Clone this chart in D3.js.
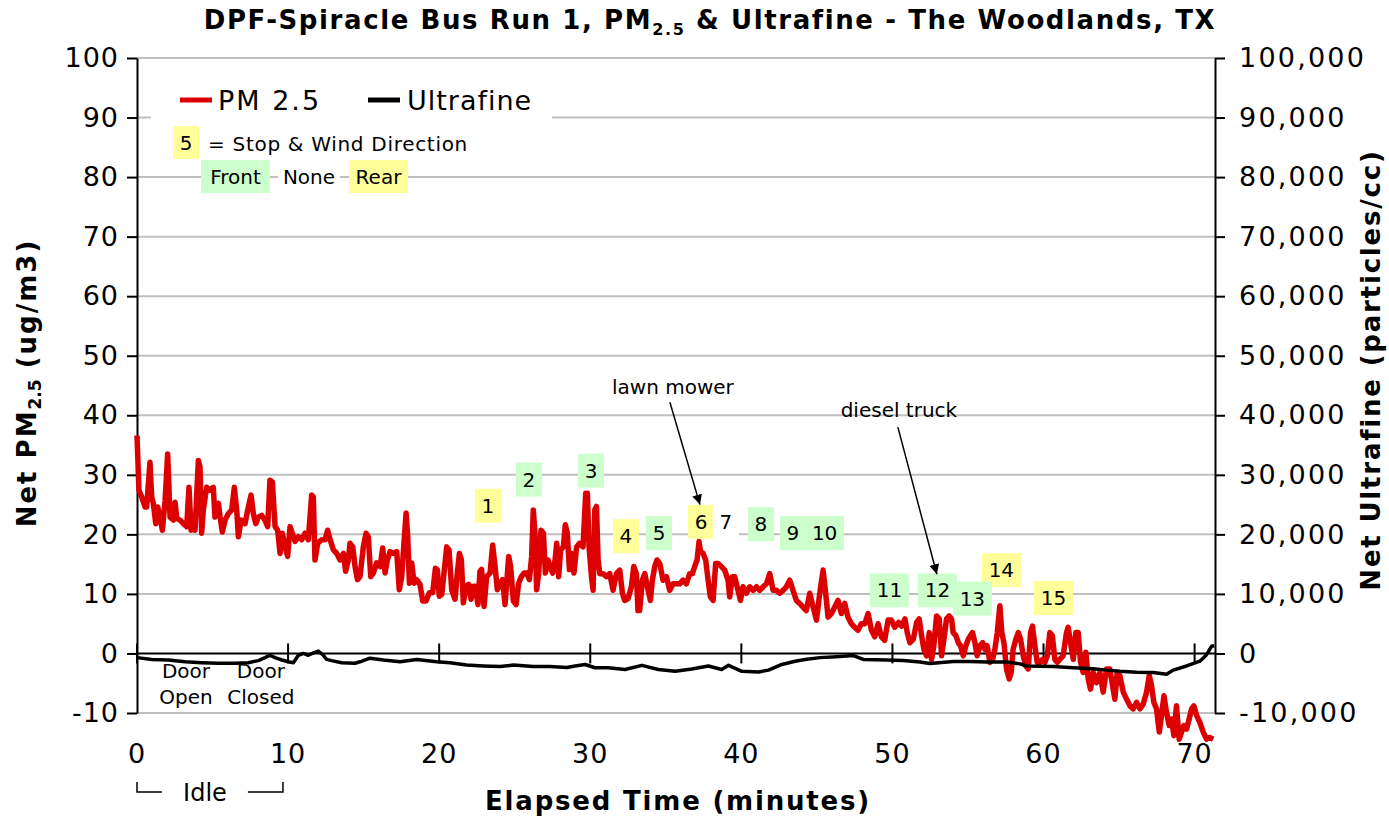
<!DOCTYPE html>
<html lang="en">
<head>
<meta charset="UTF-8">
<title>DPF-Spiracle Bus Run 1, PM2.5 &amp; Ultrafine</title>
<script src="https://d3js.org/d3.v7.min.js"></script>
<style>
  body { margin: 0; background: #fff; overflow: hidden; }
  svg text { font-family: "DejaVu Sans", Verdana, sans-serif; fill: #000; }
  .grid line { stroke: #c0c0c0; stroke-width: 2; }
  .axis path, .axis line { stroke: #000; stroke-width: 2; }
  .axis text { font-size: 27px; letter-spacing: 1px; }
  .axis.right text { letter-spacing: 2.2px; }
  .ann { font-size: 20px; }
</style>
</head>
<body>
<svg id="chart" width="1389" height="816"></svg>
<script>
// ---- data ----
const pmTime = [0.0,0.13,0.31,0.53,0.64,0.86,0.97,1.08,1.24,1.37,1.52,1.68,1.86,2.03,2.19,2.41,2.52,2.63,2.85,3.07,3.29,3.44,3.58,3.73,3.84,4.06,4.17,4.28,4.39,4.61,4.83,5.05,5.16,5.39,5.5,5.65,5.83,6.05,6.27,6.44,6.6,6.71,6.89,7.15,7.37,7.55,7.7,7.86,8.03,8.25,8.47,8.65,8.8,8.96,9.14,9.31,9.47,9.62,9.8,9.97,10.13,10.28,10.46,10.68,10.9,11.12,11.34,11.56,11.67,11.78,11.96,12.22,12.44,12.62,12.78,13.0,13.22,13.44,13.66,13.81,13.99,14.1,14.28,
  14.43,14.59,14.76,14.98,15.16,15.31,15.47,15.64,15.86,16.09,16.26,16.42,16.57,16.75,16.97,17.19,17.36,17.52,17.67,17.81,17.92,18.03,18.18,18.34,18.51,18.73,18.91,19.13,19.35,19.57,19.75,19.88,20.01,20.17,20.32,20.5,20.65,20.83,21.05,21.2,21.34,21.47,21.6,21.78,21.95,22.11,22.26,22.39,22.57,22.7,22.81,22.97,23.14,23.37,23.54,23.7,23.85,24.03,24.2,24.36,24.47,24.6,24.73,24.91,25.09,25.26,25.44,25.62,25.79,25.97,26.12,26.23,26.34,26.45,26.59,26.74,26.9,27.03,27.2,27.34,27.51,27.67,27.78,27.91,28.04,28.22,28.35,28.48,28.62,28.77,28.92,29.1,29.28,
  29.52,29.7,29.81,29.92,30.08,30.19,30.3,30.41,30.52,30.63,30.85,31.07,31.29,31.51,31.73,31.95,32.13,32.28,32.5,32.72,32.88,33.05,33.16,33.27,33.45,33.61,33.83,33.98,34.11,34.27,34.42,34.6,34.82,35.04,35.26,35.48,35.7,35.92,36.14,36.36,36.58,36.76,36.91,37.07,37.2,37.29,37.47,37.64,37.8,37.95,38.13,38.3,38.46,38.68,38.9,39.12,39.23,39.41,39.56,39.78,39.94,40.11,40.33,40.55,40.78,41.0,41.22,41.44,41.66,41.88,42.1,42.32,42.54,42.76,42.98,43.2,43.42,43.64,43.86,44.08,44.3,44.53,44.75,44.97,45.19,45.41,45.58,45.74,45.96,46.18,46.4,46.62,46.84,47.06,47.28,47.5,47.72,47.94,48.17,48.39,48.61,48.83,49.05,49.27,49.49,49.71,49.93,50.15,
  50.41,50.6,50.83,50.98,51.16,51.38,51.6,51.77,51.93,52.08,52.26,52.44,52.59,52.74,52.92,53.1,53.25,53.41,53.58,53.76,53.91,54.02,54.2,54.36,54.51,54.69,54.86,55.02,55.17,55.3,55.46,55.61,55.79,55.97,56.12,56.27,56.45,56.63,56.78,56.94,57.11,57.24,57.38,57.55,57.73,57.86,57.99,58.17,58.33,58.48,58.66,58.83,58.99,59.14,59.27,59.43,59.58,59.76,59.94,60.09,60.25,60.42,60.58,60.75,60.91,61.08,61.3,61.52,61.63,61.79,61.97,62.14,62.3,62.45,62.63,62.8,62.96,63.11,63.29,63.51,63.73,63.95,64.17,64.39,64.57,64.72,64.88,65.05,65.28,65.5,65.72,65.94,66.16,66.38,66.6,66.82,67.0,67.15,67.3,67.48,67.66,67.81,67.97,68.14,68.32,68.47,68.63,68.8,68.98,69.14,69.29,69.47,69.64,69.8,69.95,70.13,70.35,70.57,70.79,70.99,71.23];
const pmValue = [36.6,27.4,26.3,24.6,24.6,32.1,26.3,25.2,21.8,24.6,22.9,20.7,25.7,33.5,22.9,22.4,25.4,22.7,22.4,21.8,21.3,27.9,20.7,22.4,20.7,32.4,31.3,20.2,24.1,27.9,27.4,27.9,22.9,25.2,22.9,20.4,22.4,23.5,24.1,27.9,24.1,19.6,22.4,21.8,24.6,26.6,23.5,21.8,22.9,23.2,22.4,21.3,29.1,28.8,21.3,20.7,16.8,20.2,17.9,16.3,21.3,20.2,18.8,19.6,19.1,20.2,19.1,26.6,26.3,15.7,18.5,19.1,19.1,20.7,19.1,17.4,16.8,15.7,16.8,13.8,15.7,18.5,17.9,
  14.6,12.4,12.9,17.9,20.2,19.6,12.9,13.5,15.2,14.6,17.7,13.5,15.7,17.1,16.8,17.1,10.7,12.9,18.5,23.6,19.6,11.8,15.2,11.8,12.4,11.6,8.8,8.8,10.2,10.2,14.3,14.1,9.6,9.9,13.5,17.9,17.4,10.7,9.1,13.5,16.8,15.7,8.5,11.3,11.6,9.1,11.3,11.3,8.2,13.8,14.1,7.9,12.9,13.5,18.2,14.6,10.7,11.8,12.4,8.2,11.8,16.3,14.6,8.8,8.2,11.8,12.9,13.5,13.5,12.4,16.3,24.1,20.2,10.7,13.5,20.7,20.2,13.5,15.7,14.6,13.5,15.7,18.5,12.9,17.4,17.9,21.6,20.2,14.1,16.8,13.5,17.9,18.5,
  17.9,26.9,26.9,17.9,12.9,10.6,24.1,24.7,15.7,13.4,13.4,12.9,13.4,10.6,13.4,14.0,10.1,8.9,9.2,11.2,14.6,13.4,7.2,7.2,12.3,13.4,10.6,8.9,12.3,14.6,15.7,15.1,12.3,12.9,10.6,11.7,11.7,11.7,12.3,11.7,13.4,13.4,14.6,15.7,18.8,17.1,16.8,15.7,12.3,9.5,8.9,15.1,15.1,14.6,14.0,12.3,9.5,12.9,12.9,10.6,8.9,11.2,10.1,11.2,10.6,11.2,10.6,11.2,11.7,13.4,10.6,10.6,10.1,10.6,11.2,12.3,10.6,8.9,8.4,7.8,7.2,10.1,7.8,5.6,10.1,14.0,10.1,6.1,6.7,7.8,8.9,6.7,8.4,6.1,5.0,4.4,3.9,5.0,5.0,6.7,3.9,2.8,5.0,2.8,2.2,5.6,5.6,4.4,
  5.2,4.6,5.8,3.5,1.8,2.4,5.2,5.8,3.0,0.7,-0.4,3.5,-1.0,1.3,6.3,5.8,-0.4,2.4,5.8,6.3,5.8,3.5,3.0,1.8,1.3,-0.4,1.3,2.4,3.0,3.5,1.8,-0.4,1.3,1.8,0.7,1.3,-1.5,-1.0,0.7,3.5,8.0,3.5,1.8,-2.6,-4.3,-3.2,0.7,2.4,3.5,2.4,-0.4,-2.1,-2.6,3.5,4.6,1.3,-1.5,-1.5,-1.0,-1.5,-0.4,3.5,3.0,-1.0,-1.5,-1.0,-0.4,3.5,4.4,1.8,-1.0,3.5,3.5,-1.5,-3.2,0.2,-4.3,-6.0,-3.2,-4.9,-3.2,-6.5,-2.6,-2.6,-5.4,-7.7,-3.2,-3.7,-6.5,-7.7,-8.8,-9.3,-8.2,-9.3,-8.5,-6.5,-3.7,-5.4,-8.2,-9.3,-13.2,-10.4,-7.1,-9.9,-12.1,-11.0,-13.8,-8.8,-14.4,-13.2,-12.1,-12.7,-11.0,-9.3,-8.8,-10.4,-11.6,-13.2,-14.4,-14.1,-14.4];

const ufTime = [0,0.97,2.08,3.18,4.28,5.39,6.49,7.37,8.03,8.47,8.8,9.14,9.58,10.02,10.35,10.68,11.01,11.34,11.67,12.0,12.33,12.55,12.88,13.55,14.43,14.76,15.42,16.31,17.41,18.51,19.84,20.72,21.82,22.92,24.03,24.91,26.23,27.34,28.44,29.0,29.66,30.32,31.2,32.3,33.41,34.51,35.62,36.72,37.82,38.7,39.15,40.03,41.13,41.8,42.68,43.56,44.22,45.2,46.3,47.41,48.07,49.61,50.72,51.82,52.48,54.02,55.13,56.23,57.55,58.44,58.88,60.64,61.97,63.29,64.17,65.05,66.16,67.26,68.14,68.58,69.47,70.35,70.79,71.12,71.3];
const ufValue = [-700,-1000,-1100,-1400,-1550,-1650,-1650,-1550,-1200,-700,-300,-700,-1100,-1400,-1550,-300,0,-300,100,400,-300,-1000,-1200,-1550,-1650,-1400,-800,-1100,-1400,-1000,-1400,-1550,-1950,-2100,-2200,-1950,-2200,-2200,-2350,-2100,-1850,-2400,-2400,-2700,-2000,-2700,-3000,-2600,-2100,-2700,-2000,-3000,-3100,-2800,-1850,-1300,-1000,-700,-550,-350,-1000,-1100,-1200,-1450,-1700,-1350,-1350,-1450,-1450,-1750,-2100,-2200,-2400,-2550,-2800,-3000,-3150,-3200,-3500,-2800,-2100,-1300,-200,1200,1300];

const leftTicks = [-10, 0, 10, 20, 30, 40, 50, 60, 70, 80, 90, 100];
const rightTicks = [-10000, 0, 10000, 20000, 30000, 40000, 50000, 60000, 70000, 80000, 90000, 100000];
const xTicks = [0, 10, 20, 30, 40, 50, 60, 70];

// stop markers: label, wind direction, time and level of the box centre
const stopLabels = ["1", "2", "3", "4", "5", "6", "7", "8", "9\u00a0\u00a010", "11", "12", "14", "13", "15"];
const stopWind   = ["Rear", "Front", "Front", "Rear", "Front", "Rear", "None", "Front", "Front", "Front", "Front", "Rear", "Front", "Rear"];
const stopTimes  = [23.23, 25.94, 30.05, 32.36, 34.55, 37.33, 38.98, 41.3, 44.67, 49.8, 52.98, 57.21, 55.29, 60.66];
const stopLevels = [24.8, 29.2, 30.7, 19.7, 20.2, 22.1, 22.0, 21.7, 20.2, 10.6, 10.6, 14.0, 9.2, 9.3];

const windColor = { Front: "#ccffcc", Rear: "#ffff99", None: "#ffffff" };

// ---- layout ----
const W = 1389, H = 816;
const margin = { top: 58, right: 174, bottom: 103, left: 137 };
const innerW = W - margin.left - margin.right;
const innerH = H - margin.top - margin.bottom;

const svg = d3.select("#chart");

const x = d3.scaleLinear().domain([0, 71.35]).range([margin.left, margin.left + innerW]);
const yL = d3.scaleLinear().domain([-10, 100]).range([margin.top + innerH, margin.top]);
const yR = d3.scaleLinear().domain([-10000, 100000]).range([margin.top + innerH, margin.top]);

const hyphen = f => d => f(d).replace("\u2212", "-");

// gridlines
svg.append("g").attr("class", "grid")
  .selectAll("line")
  .data(leftTicks.filter(d => d !== 0))
  .join("line")
  .attr("x1", x.range()[0]).attr("x2", x.range()[1])
  .attr("y1", d => yL(d)).attr("y2", d => yL(d));

// legend background (hides the 90 gridline)
svg.append("rect")
  .attr("x", 151).attr("y", 77).attr("width", 401).attr("height", 47)
  .attr("fill", "#fff");

// left axis
svg.append("g").attr("class", "axis")
  .attr("transform", `translate(${margin.left},0)`)
  .call(d3.axisLeft(yL).tickValues(leftTicks).tickFormat(hyphen(d3.format("d")))
    .tickSize(10).tickSizeOuter(0).tickPadding(8))
  .call(g => g.selectAll("text").attr("font-family", null).attr("font-size", null));

// right axis
svg.append("g").attr("class", "axis right")
  .attr("transform", `translate(${margin.left + innerW},0)`)
  .call(d3.axisRight(yR).tickValues(rightTicks).tickFormat(hyphen(d3.format(",")))
    .tickSize(10).tickSizeOuter(0).tickPadding(14))
  .call(g => g.selectAll("text").attr("font-family", null).attr("font-size", null));

// x axis crosses at zero
const y0 = yL(0);
const xAxis = svg.append("g").attr("class", "axis");
xAxis.append("line")
  .attr("x1", x.range()[0]).attr("x2", x.range()[1])
  .attr("y1", y0).attr("y2", y0);
xAxis.selectAll("line.tick")
  .data(xTicks)
  .join("line")
  .attr("class", "tick")
  .attr("x1", d => x(d)).attr("x2", d => x(d))
  .attr("y1", y0 - 10).attr("y2", y0 + 10);
xAxis.selectAll("text")
  .data(xTicks)
  .join("text")
  .attr("x", d => x(d))
  .attr("y", margin.top + innerH + 50)
  .attr("text-anchor", "middle")
  .text(d => d);

// series
const pmData = pmTime.map((t, i) => [t, pmValue[i]]);
const ufData = ufTime.map((t, i) => [t, ufValue[i]]);

svg.append("path")
  .datum(pmData)
  .attr("fill", "none")
  .attr("stroke", "#dd0000")
  .attr("stroke-width", 5.5)
  .attr("stroke-linejoin", "round")
  .attr("d", d3.line().x(d => x(d[0])).y(d => yL(d[1])));

svg.append("path")
  .datum(ufData)
  .attr("fill", "none")
  .attr("stroke", "#000")
  .attr("stroke-width", 3.5)
  .attr("stroke-linejoin", "round")
  .attr("d", d3.line().x(d => x(d[0])).y(d => yR(d[1])));

// title
const title = svg.append("text")
  .attr("x", 710).attr("y", 29)
  .attr("text-anchor", "middle")
  .attr("font-size", 26).attr("font-weight", "bold")
  .attr("letter-spacing", 1.6);
title.append("tspan").text("DPF-Spiracle Bus Run 1, PM");
title.append("tspan").attr("font-size", 16).attr("dy", 6).text("2.5");
title.append("tspan").attr("dy", -6).text(" & Ultrafine - The Woodlands, TX");

// axis titles
const lt = svg.append("text")
  .attr("transform", "translate(36,383) rotate(-90)")
  .attr("text-anchor", "middle")
  .attr("font-size", 26).attr("font-weight", "bold")
  .attr("letter-spacing", 2);
lt.append("tspan").text("Net PM");
lt.append("tspan").attr("font-size", 17).attr("letter-spacing", 0).attr("dy", 5).text("2.5");
lt.append("tspan").attr("dy", -5).text(" (ug/m3)");

svg.append("text")
  .attr("transform", "translate(1380,370) rotate(-90)")
  .attr("text-anchor", "middle")
  .attr("font-size", 26).attr("font-weight", "bold")
  .attr("letter-spacing", 1.8)
  .text("Net Ultrafine (particles/cc)");

svg.append("text")
  .attr("x", 678).attr("y", 810)
  .attr("text-anchor", "middle")
  .attr("font-size", 26).attr("font-weight", "bold")
  .attr("letter-spacing", 1.8)
  .text("Elapsed Time (minutes)");

// legend
const lg = svg.append("g");
lg.append("line").attr("x1", 180).attr("x2", 212).attr("y1", 100).attr("y2", 100)
  .attr("stroke", "#dd0000").attr("stroke-width", 5);
lg.append("text").attr("x", 218).attr("y", 110).attr("font-size", 27)
  .attr("letter-spacing", 2).text("PM 2.5");
lg.append("line").attr("x1", 368).attr("x2", 400).attr("y1", 100).attr("y2", 100)
  .attr("stroke", "#000").attr("stroke-width", 5);
lg.append("text").attr("x", 407).attr("y", 110).attr("font-size", 27)
  .attr("letter-spacing", 1).text("Ultrafine");

// stop key
function keyBox(x0, yTop, w, label, wind) {
  lg.append("rect").attr("x", x0).attr("y", yTop).attr("width", w).attr("height", 33)
    .attr("fill", windColor[wind]);
  lg.append("text").attr("class", "ann").attr("x", x0 + w / 2).attr("y", yTop + 24)
    .attr("text-anchor", "middle").text(label);
}
keyBox(173, 126, 26, "5", "Rear");
lg.append("text").attr("class", "ann").attr("x", 208).attr("y", 151)
  .attr("letter-spacing", 0.7).text("= Stop & Wind Direction");
keyBox(201, 160, 69, "Front", "Front");
keyBox(278, 160, 62, "None", "None");
keyBox(349, 160, 59, "Rear", "Rear");

// stop boxes on the chart
const stops = svg.append("g");
stopLabels.forEach((lab, i) => {
  const cx = x(stopTimes[i]), cy = yL(stopLevels[i]);
  const n = lab.length;
  const w = n === 1 ? 26 : (n === 2 ? 39 : 64);
  stops.append("rect")
    .attr("x", cx - w / 2).attr("y", cy - 17).attr("width", w).attr("height", 34)
    .attr("fill", windColor[stopWind[i]]);
  stops.append("text").attr("class", "ann")
    .attr("x", cx).attr("y", cy + 7)
    .attr("text-anchor", "middle").text(lab);
});

// arrows
svg.append("defs").append("marker")
  .attr("id", "head").attr("viewBox", "0 0 10 10")
  .attr("refX", 10).attr("refY", 5)
  .attr("markerWidth", 10).attr("markerHeight", 10)
  .attr("markerUnits", "userSpaceOnUse")
  .attr("orient", "auto")
  .append("path").attr("d", "M0,0 L10,5 L0,10 Z").attr("fill", "#000");

const notes = [
  { text: "lawn mower", tx: 35.47, tv: 43.6, x1: 35.27, v1: 42.2, x2: 37.26, v2: 25.0 },
  { text: "diesel truck", tx: 50.43, tv: 39.7, x1: 50.36, v1: 38.0, x2: 52.94, v2: 13.3 }
];
notes.forEach(n => {
  svg.append("text").attr("class", "ann")
    .attr("x", x(n.tx)).attr("y", yL(n.tv))
    .attr("text-anchor", "middle").text(n.text);
  svg.append("line")
    .attr("x1", x(n.x1)).attr("y1", yL(n.v1))
    .attr("x2", x(n.x2)).attr("y2", yL(n.v2))
    .attr("stroke", "#000").attr("stroke-width", 1.5)
    .attr("marker-end", "url(#head)");
});

// door notes
[["Door", "Open", 3.24], ["Door", "Closed", 8.2]].forEach(([a, b, t]) => {
  svg.append("text").attr("class", "ann").attr("font-size", 21)
    .attr("x", x(t)).attr("y", y0 + 25).attr("text-anchor", "middle").text(a);
  svg.append("text").attr("class", "ann").attr("font-size", 21)
    .attr("x", x(t)).attr("y", y0 + 51).attr("text-anchor", "middle").text(b);
});

// idle bracket
svg.append("path")
  .attr("d", `M${x(0)},782 V792 H${x(1.65)} M${x(7.34)},792 H${x(9.66)} V782`)
  .attr("fill", "none").attr("stroke", "#000").attr("stroke-width", 1.5);
svg.append("text").attr("x", x(4.5)).attr("y", 801)
  .attr("text-anchor", "middle").attr("font-size", 24).text("Idle");
</script>
</body>
</html>
